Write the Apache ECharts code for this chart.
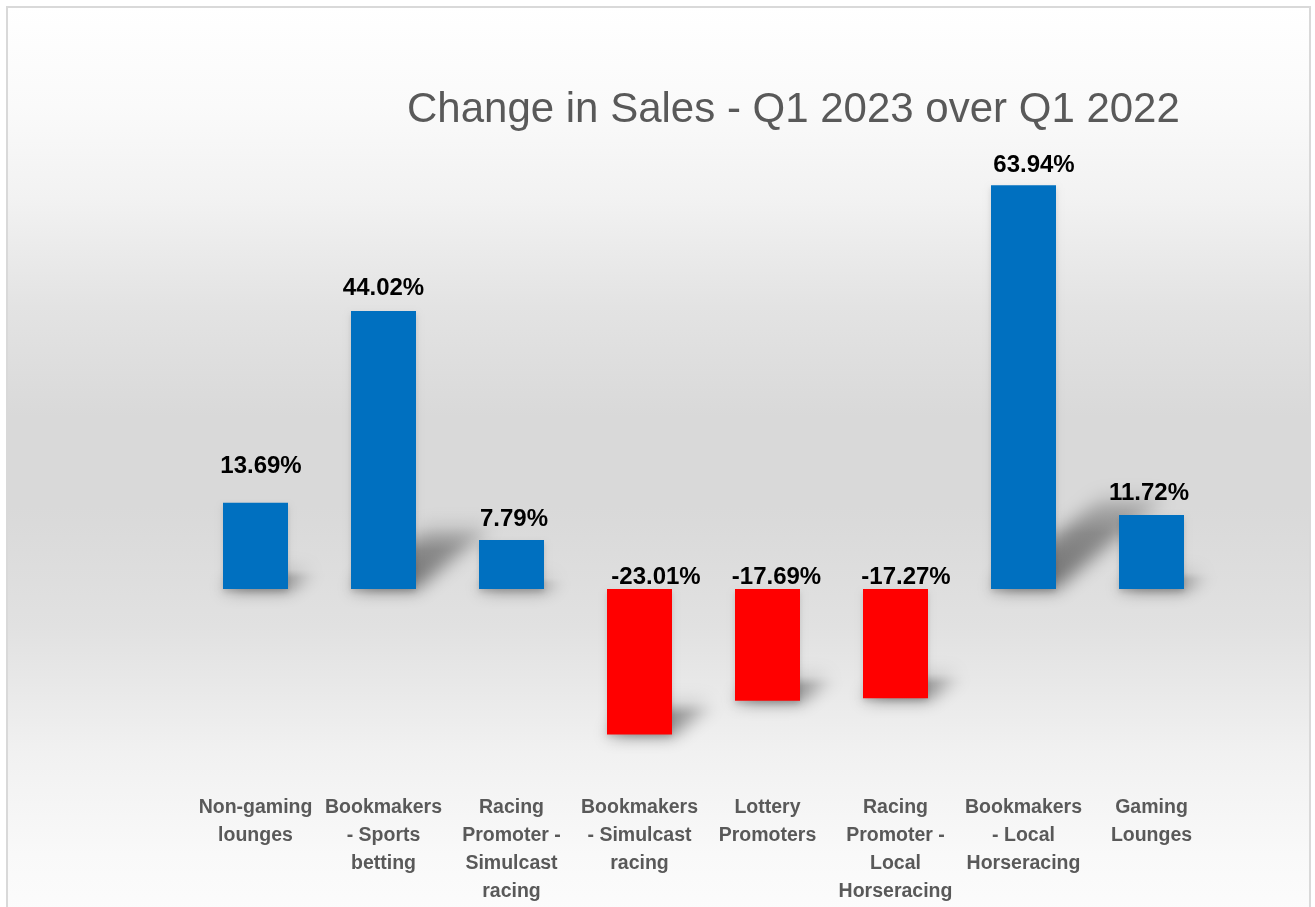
<!DOCTYPE html>
<html>
<head>
<meta charset="utf-8">
<title>Change in Sales - Q1 2023 over Q1 2022</title>
<script src="https://cdn.jsdelivr.net/npm/echarts@6/dist/echarts.min.js"></script>
<style>
  html, body { margin: 0; padding: 0; background: #fff; }
  #chart { width: 1315px; height: 907px; }
</style>
</head>
<body>
<div id="chart"></div>
<script>
// categories (line breaks as wrapped in the original)
var categories = [
  'Non-gaming\nlounges',
  'Bookmakers\n- Sports\nbetting',
  'Racing\nPromoter -\nSimulcast\nracing',
  'Bookmakers\n- Simulcast\nracing',
  'Lottery\nPromoters',
  'Racing\nPromoter -\nLocal\nHorseracing',
  'Bookmakers\n- Local\nHorseracing',
  'Gaming\nLounges'
]
// change in sales, %
var changePct = [13.69, 44.02, 7.79, -23.01, -17.69, -17.27, 63.94, 11.72]
// label placement tweaks (gap above bar, sideways nudge) as in the original
var labelGap = [24, 11, 9, 0, 0, 0, 8, 10]
var labelShift = [5.5, 0, 2.5, 16.5, 9, 10.5, 10.5, -2.5]

var BLUE = '#0070c0'
var RED = '#ff0000'
var BAR_W = 65
var OFF = 3000 // shadow shapes are drawn off canvas, only their blurred shadow shows

var myChart = echarts.init(document.getElementById('chart'))

var barData = changePct.map(function (v, i) {
  return {
    value: v,
    itemStyle: { color: v < 0 ? RED : BLUE },
    label: { position: 'top', distance: labelGap[i], offset: [labelShift[i], 0] }
  }
})
var shadowData = changePct.map(function (v, i) { return [i, v] })

myChart.setOption({
  animation: false,
  title: {
    text: 'Change in Sales - Q1 2023 over Q1 2022',
    left: 402,
    top: 84,
    textStyle: {
      fontFamily: "'Liberation Sans', Arial, sans-serif",
      fontSize: 42,
      fontWeight: 'normal',
      color: '#595959'
    }
  },
  // chart area background + border
  graphic: [{
    type: 'rect',
    z: -10,
    silent: true,
    shape: { x: 7, y: 7, width: 1303, height: 910 },
    style: {
      stroke: '#d9d9d9',
      lineWidth: 2,
      fill: new echarts.graphic.LinearGradient(0, 0, 0, 1, [
        { offset: 0, color: '#ffffff' },
        { offset: 0.11, color: '#fafafa' },
        { offset: 0.21, color: '#f2f2f2' },
        { offset: 0.33, color: '#e3e3e3' },
        { offset: 0.45, color: '#d9d9d9' },
        { offset: 0.55, color: '#d9d9d9' },
        { offset: 0.68, color: '#e1e1e1' },
        { offset: 0.82, color: '#f1f1f1' },
        { offset: 0.93, color: '#f9f9f9' },
        { offset: 1, color: '#fcfcfc' }
      ])
    }
  }],
  grid: {
    left: 191.5,
    right: 99.5,
    top: 147,
    bottom: 128.4,
    containLabel: false
  },
  xAxis: {
    type: 'category',
    data: categories,
    axisLine: { show: false, onZero: false },
    axisTick: { show: false },
    splitLine: { show: false },
    axisLabel: {
      interval: 0,
      margin: 15,
      fontFamily: "'Liberation Sans', Arial, sans-serif",
      fontSize: 19.5,
      fontWeight: 'bold',
      lineHeight: 28,
      color: '#595959'
    }
  },
  yAxis: {
    type: 'value',
    min: -30,
    max: 70,
    show: false,
    splitLine: { show: false }
  },
  series: [{
    // skewed, blurred drop shadow behind the bars
    type: 'custom',
    z: 1,
    silent: true,
    data: shadowData,
    renderItem: function (params, api) {
      var idx = api.value(0)
      var v = api.value(1)
      var base = api.coord([idx, 0])
      var end = api.coord([idx, v])
      var h = Math.abs(base[1] - end[1])
      var bottomY = Math.max(base[1], end[1])
      var dx = h * 0.27
      var dy = h * 0.23
      var x0 = base[0] - BAR_W / 2 - OFF
      var x1 = base[0] + BAR_W / 2 - OFF
      return {
        type: 'polygon',
        shape: {
          points: [[x0, bottomY], [x1, bottomY], [x1 + dx, bottomY - dy], [x0 + dx, bottomY - dy]]
        },
        style: {
          fill: new echarts.graphic.LinearGradient(0, 1, 0, 0, [
            { offset: 0, color: 'rgba(0,0,0,1)' },
            { offset: 0.6, color: 'rgba(0,0,0,0.75)' },
            { offset: 1, color: 'rgba(0,0,0,0.3)' }
          ]),
          shadowBlur: 18,
          shadowOffsetX: OFF,
          shadowColor: 'rgba(0,0,0,0.5)'
        }
      }
    }
  }, {
    type: 'bar',
    z: 2,
    barWidth: BAR_W,
    data: barData,
    itemStyle: {
      shadowBlur: 6,
      shadowOffsetY: 3,
      shadowColor: 'rgba(0,0,0,0.15)'
    },
    label: {
      show: true,
      formatter: function (p) { return p.value.toFixed(2) + '%' },
      fontFamily: "'Liberation Sans', Arial, sans-serif",
      fontSize: 24,
      fontWeight: 'bold',
      color: '#000'
    }
  }]
})
</script>
</body>
</html>
